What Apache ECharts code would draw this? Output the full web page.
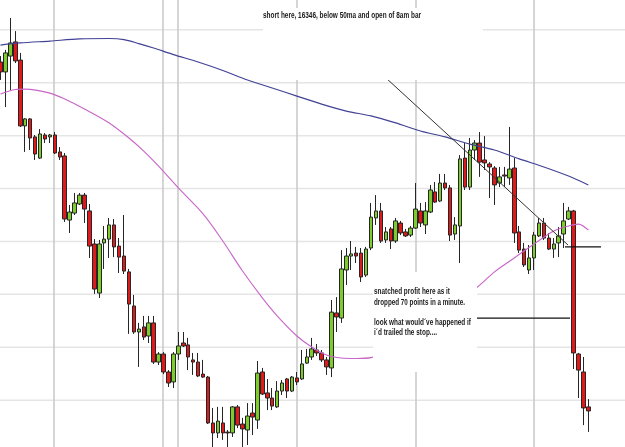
<!DOCTYPE html>
<html>
<head>
<meta charset="utf-8">
<script src="https://cdn.jsdelivr.net/npm/echarts@6/dist/echarts.min.js"></script>
<style>
html,body{margin:0;padding:0;background:#fff;}
#chart{width:625px;height:447px;}
</style>
</head>
<body>
<div id="chart"></div>
<script>
// ---- data (prices) ----
const opens = [16434.8,16430.1,16437.6,16444.3,16435.7,16404.6,16407.9,16399.4,16389.4,16400.3,
16399.4,16400.3,16392.3,16390.4,16360.1,16363.4,16367.7,16371.9,16364.4,16348.8,
16325.6,16349.3,16351.1,16357.8,16347.8,16343.1,16335.6,16319.5,16307.2,16309.6,
16305.3,16311.5,16293.0,16296.8,16288.3,16283.6,16296.8,16302.0,16301.1,16294.0,
16293.0,16287.3,16285.9,16264.2,16259.5,16264.2,16259.9,16259.5,16271.8,16263.7,
16260.9,16268.9,16265.6,16288.3,16278.4,16276.0,16271.8,16279.3,16285.0,16279.3,
16285.5,16285.0,16292.5,16295.4,16298.7,16297.3,16294.0,16290.2,16316.2,16313.8,
16336.5,16343.1,16344.5,16344.5,16334.1,16346.9,16361.1,16364.4,16350.7,16355.9,
16350.2,16358.7,16354.5,16353.0,16356.3,16364.4,16357.8,16363.9,16373.4,16369.1,
16377.6,16375.3,16353.5,16357.3,16389.4,16375.7,16393.2,16396.5,16388.5,16386.6,
16384.7,16377.6,16381.4,16380.0,16384.7,16354.5,16346.4,16336.5,16342.2,16352.6,
16358.7,16351.6,16346.4,16349.3,16353.5,16360.6,16364.4,16296.8,16288.3,16271.8];
const closes = [16430.1,16439.1,16443.8,16435.3,16404.6,16407.9,16398.9,16391.3,16400.8,16398.4,
16400.3,16391.8,16389.9,16360.6,16363.9,16368.2,16371.9,16365.3,16347.8,16327.5,
16348.8,16351.1,16357.8,16347.4,16342.6,16336.0,16320.4,16307.2,16308.6,16304.8,
16311.5,16293.0,16296.8,16288.3,16283.1,16296.8,16300.6,16300.6,16295.4,16293.0,
16286.4,16285.9,16264.2,16259.5,16265.1,16259.5,16259.5,16271.8,16263.2,16261.4,
16267.5,16267.0,16287.8,16277.9,16276.0,16272.2,16279.3,16283.1,16279.3,16285.9,
16283.6,16292.1,16295.4,16299.2,16297.3,16294.0,16290.7,16316.6,16314.3,16337.0,
16343.1,16344.1,16343.1,16333.2,16346.4,16361.5,16364.4,16350.2,16354.5,16350.2,
16359.7,16354.0,16352.6,16356.3,16365.3,16358.7,16364.4,16374.3,16368.6,16377.6,
16375.3,16353.0,16357.8,16389.0,16375.7,16393.2,16396.5,16387.5,16387.1,16385.2,
16376.7,16380.5,16380.9,16384.2,16354.0,16345.9,16338.9,16342.2,16353.0,16358.7,
16351.6,16346.4,16348.8,16352.6,16359.7,16364.4,16297.3,16289.2,16271.3,16269.9];
const lows = [16426.3,16413.5,16421.6,16434.3,16404.1,16392.3,16393.2,16388.5,16389.0,16396.5,
16396.5,16391.3,16388.5,16359.2,16354.0,16362.5,16367.2,16358.7,16342.2,16325.2,
16323.3,16337.0,16342.2,16342.6,16335.1,16334.6,16306.3,16306.3,16290.7,16303.4,
16302.0,16292.1,16291.6,16287.3,16281.2,16280.7,16294.0,16300.1,16289.2,16286.9,
16285.9,16285.5,16263.7,16252.8,16257.1,16256.2,16252.8,16257.6,16261.8,16252.8,
16253.8,16258.5,16261.4,16277.4,16270.3,16270.3,16271.3,16277.4,16276.0,16278.8,
16282.1,16284.5,16292.1,16294.0,16295.9,16293.0,16286.9,16285.9,16307.2,16311.5,
16329.4,16336.5,16339.8,16330.8,16333.2,16345.9,16357.8,16349.3,16349.3,16346.4,
16349.3,16353.0,16352.1,16352.1,16355.9,16356.8,16353.5,16363.4,16368.2,16368.6,
16374.3,16350.2,16350.7,16339.8,16374.3,16374.3,16388.5,16380.5,16383.8,16370.5,
16367.2,16375.7,16375.7,16376.7,16349.3,16344.5,16337.9,16334.6,16336.5,16352.1,
16350.7,16345.9,16342.2,16342.6,16346.9,16360.1,16289.7,16276.0,16263.2,16260.0];
const highs = [16437.6,16440.5,16455.6,16449.4,16439.1,16408.3,16408.3,16400.3,16403.1,16401.2,
16400.8,16401.7,16394.6,16391.8,16367.2,16372.9,16372.9,16372.9,16367.7,16351.1,
16350.7,16357.3,16361.1,16360.6,16351.6,16362.5,16337.0,16324.7,16311.5,16314.8,
16314.8,16314.8,16297.7,16297.7,16289.2,16297.7,16307.2,16307.2,16304.4,16297.3,
16297.3,16294.0,16286.4,16271.3,16271.8,16271.8,16260.9,16272.2,16272.7,16266.6,
16273.6,16273.6,16293.5,16290.2,16285.0,16280.7,16284.0,16284.5,16285.5,16286.4,
16288.3,16298.7,16299.2,16304.4,16301.5,16298.7,16295.4,16322.3,16323.7,16345.9,
16346.9,16350.2,16347.4,16346.9,16347.4,16368.2,16371.9,16368.2,16356.8,16356.8,
16361.1,16359.7,16355.9,16357.3,16377.6,16368.2,16368.6,16376.7,16378.1,16381.9,
16381.9,16376.7,16361.5,16390.8,16396.5,16398.9,16397.9,16401.7,16399.8,16387.5,
16385.6,16385.2,16385.2,16404.1,16389.4,16357.3,16349.3,16348.3,16354.5,16361.1,
16361.1,16354.0,16351.6,16356.8,16368.2,16366.3,16364.9,16297.3,16295.4,16275.5];

// slow moving average (blue) sampled at bar indices
const maSlowIdx = [0,4,10,16,22,25,28,31,35,40,45,50,55,60,65,70,75,80,85,90,95,100,105,110,115,119];
const maSlowVal = [16442.8,16443.8,16444.7,16445.7,16445.9,16445.4,16443.5,16441.4,16438.3,16434.8,16430.8,16426.3,16422.5,16418.7,16414.9,16411.6,16409.3,16406.0,16402.2,16399.4,16396.0,16393.2,16389.0,16385.2,16380.9,16376.7];
// 50 ma (magenta)
const maFastIdx = [0,3,5,10,13,17,22,26,29,32,36,41,45,49,53,56,60,63,66,69,72,75,96,100,104,108,112,115,117,119];
const maFastVal = [16419.7,16421.8,16422.0,16420.1,16417.3,16412.6,16406.0,16398.9,16392.7,16385.6,16375.3,16363.0,16350.2,16336.0,16323.3,16314.8,16305.3,16300.1,16296.3,16294.9,16294.7,16295.1,16327.5,16335.6,16342.2,16348.8,16354.9,16357.3,16358.2,16355.4];

// hand-drawn annotation lines (bar index, price)
const trendLine = [[78.24,16426.8],[114.88,16348.3]];
const shortLevel = [[114.27,16347.4],[121.56,16347.4]];
const exitLevel = [[96.46,16313.8],[115.28,16313.8]];
// session separators (bar index positions) and price grid levels
const separators = [10.83,32.89,35.93,60.02,84.11,108.0];
const priceLevels = [16450,16425,16400,16375,16350,16325,16300,16275];

// visible window of the chart (bar index range, price range)
const xMin = -0.101, xMax = 126.417;
const yMin = 16252.85, yMax = 16464.1;

const topNote = 'short here, 16346, below 50ma and open of 8am bar';
const sideNotes = ['snatched profit here as it','dropped 70 points in a minute.','look what would\u00b4ve happened if','i\u00b4d trailed the stop....'];

// ---- build ----
const candleData = opens.map((o,i)=>[i,o,closes[i],lows[i],highs[i]]);
const font = 'bold 9px "Liberation Sans Narrow","Liberation Sans",Arial,sans-serif';
const ctx = document.createElement('canvas').getContext('2d');
ctx.font = font;
function fit(t,w){return w/ctx.measureText(t).width;}

const series = [];
priceLevels.forEach(p=>{
  series.push({type:'line',data:[[xMin,p],[xMax,p]],symbol:'none',silent:true,z:0,
    lineStyle:{color:'#e5e5e5',width:1.5}});
});
separators.forEach(v=>{
  series.push({type:'line',data:[[v,yMin],[v,yMax]],symbol:'none',silent:true,z:1,
    lineStyle:{color:'#c8c8c8',width:1.5}});
});
series.push({type:'candlestick',data:candleData,encode:{x:0,y:[1,2,3,4]},barWidth:4,z:3,
  itemStyle:{color:'#7dcc2c',color0:'#e01a1a',borderColor:'#262626',borderColor0:'#262626',borderWidth:1}});
series.push({type:'line',data:maSlowIdx.map((x,i)=>[x,maSlowVal[i]]),smooth:0.3,symbol:'none',z:4,
  lineStyle:{color:'#424296',width:1.2}});
series.push({type:'line',data:maFastIdx.map((x,i)=>[x,maFastVal[i]]),smooth:0.3,symbol:'none',z:4,
  lineStyle:{color:'#c865c8',width:1.1}});
series.push({type:'line',data:trendLine,symbol:'none',z:5,lineStyle:{color:'#333',width:1}});
series.push({type:'line',data:shortLevel,symbol:'none',z:5,lineStyle:{color:'#111',width:1.3}});
series.push({type:'line',data:exitLevel,symbol:'none',z:5,lineStyle:{color:'#111',width:1.3}});

const sideX = 374, sideY = [292,302.5,323,333], sideW = [76,91,97,63];
const graphic = [
  {type:'rect',shape:{x:263,y:8,width:220,height:72},style:{fill:'#fff'},z:100,silent:true},
  {type:'rect',shape:{x:373,y:272,width:104,height:100},style:{fill:'#fff'},z:100,silent:true},
  {type:'text',x:263,y:15.5,scaleX:fit(topNote,158),z:101,silent:true,
   style:{text:topNote,font:font,fill:'#1a1a1a',verticalAlign:'middle',textVerticalAlign:'middle'}}
];
sideNotes.forEach((t,i)=>{
  graphic.push({type:'text',x:sideX,y:sideY[i],scaleX:fit(t,sideW[i]),z:101,silent:true,
    style:{text:t,font:font,fill:'#1a1a1a',verticalAlign:'middle',textVerticalAlign:'middle'}});
});

const chart = echarts.init(document.getElementById('chart'),null,{renderer:'canvas'});
chart.setOption({
  animation:false,
  backgroundColor:'#fff',
  grid:{left:0,right:0,top:0,bottom:0,containLabel:false},
  xAxis:{type:'value',min:xMin,max:xMax,show:false,splitLine:{show:false}},
  yAxis:{type:'value',min:yMin,max:yMax,show:false,splitLine:{show:false}},
  series:series,
  graphic:graphic
});
</script>
</body>
</html>
